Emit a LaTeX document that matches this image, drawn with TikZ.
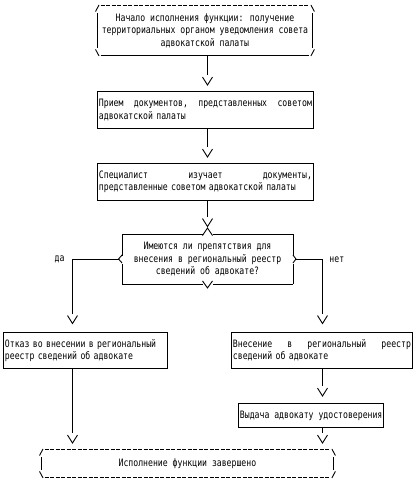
\documentclass[tikz,border=0pt]{standalone}
\usepackage{fontspec}
\newfontfamily\pixfont[FakeStretch=0.8]{DejaVu Sans Mono}
\usetikzlibrary{calc}
\newcommand\termframe[2]{%
 \draw ($(#1.north west)+(-1.5,6.5)$) -- ($(#1.north west)+(2,0)$);
 \draw[dash pattern=on 4pt off 1.5pt] ($(#1.north west)+(3.5,0)$) -- ($(#1.north east)+(-3.5,0)$);
 \draw ($(#1.north east)+(-2,0)$) -- ($(#1.north east)+(1.5,6.5)$);
 \draw ($(#1.north west)+(0,8)$) -- ($(#1.south west)+(0,-8)$);
 \draw ($(#1.north east)+(0,8)$) -- ($(#1.south east)+(0,-8)$);
 \draw ($(#1.south west)+(-1.5,-6.5)$) -- ($(#1.south west)+(2,0)$);
 \draw[#2] ($(#1.south west)+(3.5,0)$) -- ($(#1.south east)+(-3.5,0)$);
 \draw ($(#1.south east)+(-2,0)$) -- ($(#1.south east)+(1.5,-6.5)$);
}
\newcommand\conn[2]{%
 \draw (#1) -- ($(#2)+(0,-10)$);
 \draw ($(#2)+(-5,-8)$) -- (#2) -- ($(#2)+(5,-8)$);
}
\begin{document}
\begin{tikzpicture}[x=1pt,y=-1pt,line width=0.9pt,
 txt/.style={font=\pixfont\fontsize{10.2}{12.5}\selectfont, inner sep=0pt},
 term/.style={txt, anchor=north west, align=center},
 box/.style={draw, txt, inner xsep=1.5pt, inner ysep=0pt, anchor=north west, align=left},
 dashline/.style={dash pattern=on 4pt off 1.5pt}]
\useasboundingbox (0,0) rectangle (417,483);
\coordinate (cx) at (207.5,0);
\coordinate (lx) at (72.5,0);
\coordinate (rx) at (322.5,0);

\node[term, minimum width=215pt, minimum height=50pt] (start) at (97,5)
 {Начало исполнения функции: получение\\территориальных органом уведомления совета\\адвокатской палаты};
\termframe{start}{solid}

\node[box, minimum width=216pt, minimum height=37pt, text width=213pt] (b2) at (97,91)
 {\hbox to \linewidth{Прием\hfill документов,\hfill представленных\hfill советом}\\адвокатской палаты};

\node[box, minimum width=216pt, minimum height=37pt, text width=213pt] (b3) at (97,163)
 {\hbox to \linewidth{Специалист\hfill изучает\hfill документы,}\\представленные советом адвокатской палаты};

\node[txt, minimum width=170pt, minimum height=49pt, align=center] (dec) at (207.5,259)
 {Имеются ли препятствия для\\внесения в региональный реестр\\сведений об адвокате?};
% decision frame
\draw (dec.north west) -- ($(dec.north -| cx)+(-5,0)$);
\draw ($(dec.north -| cx)+(5,0)$) -- (dec.north east);
\draw ($(dec.north -| cx)+(-5,1.5)$) -- ($(dec.north -| cx)+(0,-6)$) -- ($(dec.north -| cx)+(5,1.5)$);
\draw (dec.south west) -- ($(dec.south -| cx)+(-5,0)$);
\draw ($(dec.south -| cx)+(5,0)$) -- (dec.south east);
\draw ($(dec.south -| cx)+(-5,-3)$) -- ($(dec.south -| cx)+(0,4)$) -- ($(dec.south -| cx)+(5,-3)$);
\draw (dec.north west) -- ($(dec.west)+(0,-3.5)$);
\draw ($(dec.west)+(0,5)$) -- (dec.south west);
\draw ($(dec.west)+(0,-4)$) -- ($(dec.west)+(-3.5,0)$) coordinate (dl) -- ($(dec.west)+(0,4)$);
\draw (dec.north east) -- ($(dec.east)+(0,-3.5)$);
\draw ($(dec.east)+(0,5)$) -- (dec.south east);
\draw ($(dec.east)+(0,-4)$) -- ($(dec.east)+(3,0)$) coordinate (dr) -- ($(dec.east)+(0,4)$);

\node[txt, anchor=east] (yes) at (65,259.5) {да};
\node[txt, anchor=west] (no) at (329,259.5) {нет};

\node[box, minimum width=164pt, minimum height=36pt, text width=161pt] (left) at (3,332)
 {Отказ во внесении в региональный\\реестр сведений об адвокате};
\node[box, minimum width=181pt, minimum height=36pt, text width=178pt] (right) at (231,332)
 {\hbox to \linewidth{Внесение\hfill в\hfill региональный\hfill реестр}\\сведений об адвокате};
\node[box, minimum width=143pt, minimum height=24pt] (give) at (238,403)
 {Выдача адвокату удостоверения};

\node[term, minimum width=292pt, minimum height=28pt] (end) at (41,449)
 {Исполнение функции завершено};
\termframe{end}{dashline}

% connectors
\coordinate (a1) at ($(b2.north -| cx)+(0,-6)$);
\conn{start.south -| cx}{a1}
\coordinate (a2) at ($(b3.north -| cx)+(0,-6)$);
\conn{b2.south -| cx}{a2}
\coordinate (a3) at ($(dec.north -| cx)+(0,-7.5)$);
\conn{b3.south -| cx}{a3}

\coordinate (a4) at ($(left.north -| lx)+(0,-8.5)$);
\draw (dl) -- (dl -| lx) -- ($(a4)+(0,-10)$);
\draw ($(a4)+(-5,-8)$) -- (a4) -- ($(a4)+(5,-8)$);
\coordinate (a5) at ($(right.north -| rx)+(0,-8.5)$);
\draw (dr) -- (dr -| rx) -- ($(a5)+(0,-10)$);
\draw ($(a5)+(-5,-8)$) -- (a5) -- ($(a5)+(5,-8)$);

\coordinate (a6) at ($(end.north -| lx)+(0,-6)$);
\conn{left.south -| lx}{a6}
\coordinate (a7) at ($(give.north -| rx)+(0,-7)$);
\conn{right.south -| rx}{a7}
\coordinate (a8) at ($(end.north -| rx)+(0,-6)$);
\conn{give.south -| rx}{a8}
\end{tikzpicture}
\end{document}
